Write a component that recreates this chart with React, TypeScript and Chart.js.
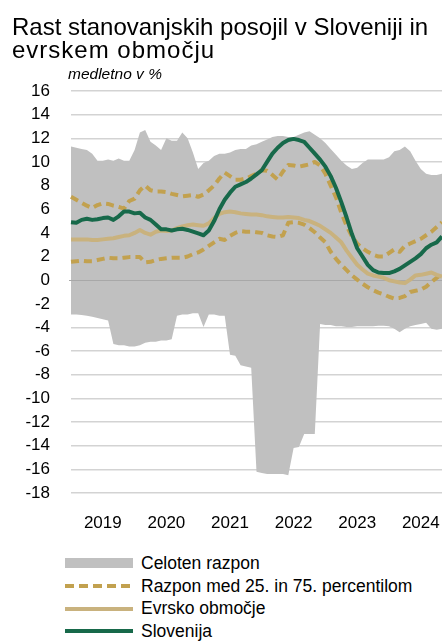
import React, { useEffect, useRef } from 'react';
import { Chart, registerables } from 'chart.js';

Chart.register(...registerables);

// Years shown on the x axis (monthly data Jan 2019 – Nov 2024)
const years: string[] = ['2019', '2020', '2021', '2022', '2023', '2024'];
const monthsInLastYear = 11;
const months: string[] = [];
years.forEach((y, yi) => {
  const n = yi === years.length - 1 ? monthsInLastYear : 12;
  for (let m = 1; m <= n; m++) months.push(`${y}-${String(m).padStart(2, '0')}`);
});

// Celoten razpon (max / min across countries)
const rangeMax: number[] = [
  11.3, 11.2, 11.1, 11.0, 10.7, 10.1, 10.1, 10.2, 10.1, 10.3, 10.1, 10.1,
  11.0, 12.5, 12.7, 11.7, 11.4, 11.0, 12.0, 11.8, 11.8, 12.5, 12.0, 10.8,
  9.4, 9.9, 10.1, 10.5, 10.7, 10.7, 10.8, 11.0, 11.1, 11.1, 11.4, 11.5,
  11.7, 11.9, 12.1, 12.2, 12.2, 12.1, 12.1, 12.3, 12.5, 12.6, 12.3, 12.0,
  11.6, 11.1, 10.6, 10.1, 9.7, 9.4, 9.5, 9.9, 10.2, 10.2, 10.2, 10.2,
  10.4, 10.9, 11.0, 11.3, 10.9, 10.1, 9.4, 9.0, 8.9, 8.9, 9.0,
];
const rangeMin: number[] = [
  -2.9, -2.9, -2.95, -3.0, -3.1, -3.2, -3.3, -3.4, -5.4, -5.5, -5.5, -5.6,
  -5.6, -5.5, -5.3, -5.2, -5.2, -5.1, -5.1, -5.0, -3.0, -2.9, -2.9, -2.8,
  -2.8, -3.95, -2.9, -2.9, -3.0, -3.0, -6.3, -6.4, -7.2, -7.3, -7.4, -16.2,
  -16.3, -16.4, -16.4, -16.4, -16.4, -16.5, -14.2, -14.1, -13.0, -13.0, -13.0, -3.7,
  -3.8, -3.8, -3.9, -3.9, -3.95, -3.95, -3.9, -3.9, -3.9, -3.9, -3.85, -3.85,
  -3.9, -4.1, -4.4, -4.1, -3.9, -3.8, -3.7, -3.6, -4.1, -4.2, -4.1,
];
// Razpon med 25. in 75. percentilom
const p75: number[] = [
  7.05, 6.8, 6.55, 6.3, 6.1, 6.35, 6.5, 6.45, 6.3, 6.2, 6.05, 6.7,
  6.9, 7.6, 8.0, 7.6, 7.5, 7.5, 7.45, 7.3, 7.2, 7.1, 7.15, 7.2,
  7.05, 7.25, 7.6, 8.0, 8.6, 9.1, 8.8, 8.5, 8.5, 8.6, 8.8, 9.0,
  9.3, 9.25, 8.9, 8.5, 9.2, 9.75, 9.7, 9.6, 9.7, 9.8, 10.0, 9.7,
  9.0, 8.0, 7.0, 5.7, 4.6, 3.7, 3.1, 2.7, 2.4, 2.15, 2.0, 2.0,
  2.3, 2.6, 2.4, 2.9, 3.1, 3.3, 3.5, 3.8, 4.1, 4.5, 4.9,
];
const p25: number[] = [
  1.55, 1.6, 1.65, 1.6, 1.6, 1.7, 1.8, 1.9, 1.85, 1.85, 1.9, 1.95,
  1.95, 1.95, 1.5, 1.55, 1.7, 1.8, 1.85, 1.9, 1.9, 1.9, 2.0, 2.2,
  2.35, 2.6, 2.9, 3.2, 3.5, 3.4, 3.75, 4.0, 4.15, 4.1, 4.1, 4.05,
  4.0, 3.8, 3.7, 3.65, 3.8, 4.85, 4.9, 4.85, 4.7, 4.4, 4.05, 3.6,
  3.2, 2.4, 1.8, 1.3, 0.85, 0.4, 0.05, -0.3, -0.6, -0.85, -1.05, -1.2,
  -1.4, -1.55, -1.5, -1.35, -1.0, -0.9, -0.8, -0.55, -0.15, 0.2, 0.5,
];
// Evrsko območje
const euroArea: number[] = [
  3.45, 3.45, 3.45, 3.45, 3.4, 3.4, 3.45, 3.5, 3.55, 3.65, 3.75, 3.8,
  4.0, 4.25, 4.0, 3.85, 4.1, 4.2, 4.15, 4.2, 4.4, 4.55, 4.65, 4.7,
  4.65, 4.6, 4.8, 5.25, 5.6, 5.75, 5.8, 5.75, 5.65, 5.6, 5.55, 5.55,
  5.5, 5.4, 5.35, 5.3, 5.3, 5.35, 5.3, 5.25, 5.1, 5.0, 4.8, 4.6,
  4.3, 4.0, 3.6, 3.2, 2.5, 1.9, 1.3, 0.9, 0.55, 0.4, 0.3, 0.2,
  0.0, -0.1, -0.2, -0.25, 0.05, 0.4, 0.45, 0.55, 0.65, 0.45, 0.3,
];
// Slovenija
const slovenia: number[] = [
  4.9, 4.85, 5.1, 5.2, 5.1, 5.15, 5.25, 5.3, 5.1, 5.4, 5.8, 5.8,
  5.65, 5.7, 5.3, 5.1, 4.7, 4.3, 4.3, 4.2, 4.3, 4.35, 4.25, 4.1,
  3.95, 3.8, 4.2, 5.0, 6.0, 6.8, 7.4, 7.9, 8.1, 8.3, 8.6, 8.95,
  9.3, 10.0, 10.7, 11.2, 11.6, 11.85, 11.95, 11.85, 11.7, 11.2, 10.7, 10.2,
  9.6, 8.8, 7.8, 6.6, 5.3, 3.9, 2.7, 2.0, 1.3, 0.85, 0.65, 0.6,
  0.6, 0.75, 0.95, 1.25, 1.55, 1.85, 2.2, 2.7, 3.0, 3.2, 3.7,
];

const yTicks = { min: -18, max: 16, step: 2 };

const COLORS = {
  range: '#c0c0c0',
  pct: '#c2a14f',
  euro: '#c9b27e',
  slo: '#17694a',
  grid: '#d3d3d3',
  zero: '#a8a8a8',
};

const FONT = '"Liberation Sans", Arial, sans-serif';

const legendItems = [
  { label: 'Celoten razpon', kind: 'rect', color: COLORS.range },
  { label: 'Razpon med 25. in 75. percentilom', kind: 'dash', color: COLORS.pct },
  { label: 'Evrsko območje', kind: 'line', color: COLORS.euro },
  { label: 'Slovenija', kind: 'line', color: COLORS.slo },
];

const zeroLinePlugin = {
  id: 'zeroLine',
  afterDatasetDraw(chart: any, args: any) {
    if (args.index !== 4) return;
    const { ctx, chartArea, scales } = chart;
    const y = Math.round(scales.y.getPixelForValue(0)) + 0.5;
    ctx.save();
    ctx.strokeStyle = COLORS.zero;
    ctx.lineWidth = 1;
    ctx.beginPath();
    ctx.moveTo(chartArea.left - 2, y);
    ctx.lineTo(chartArea.right, y);
    ctx.stroke();
    ctx.restore();
  },
};

export default function App() {
  const canvasRef = useRef<HTMLCanvasElement | null>(null);

  useEffect(() => {
    const canvas = canvasRef.current;
    if (!canvas) return;
    const lineCommon = {
      pointRadius: 0,
      pointHoverRadius: 0,
      tension: 0,
      fill: false,
      borderJoinStyle: 'round' as const,
    };
    const chart = new Chart(canvas, {
      type: 'line',
      data: {
        labels: months,
        datasets: [
          { ...lineCommon, label: 'Slovenija', data: slovenia, borderColor: COLORS.slo, borderWidth: 4 },
          { ...lineCommon, label: 'Evrsko območje', data: euroArea, borderColor: COLORS.euro, borderWidth: 4 },
          { ...lineCommon, label: '75. percentil', data: p75, borderColor: COLORS.pct, borderWidth: 4, borderDash: [8, 5] },
          { ...lineCommon, label: '25. percentil', data: p25, borderColor: COLORS.pct, borderWidth: 4, borderDash: [8, 5] },
          { ...lineCommon, label: 'Celoten razpon', data: rangeMax, borderWidth: 0, borderColor: 'rgba(0,0,0,0)', backgroundColor: COLORS.range, fill: '+1' },
          { ...lineCommon, label: 'Celoten razpon min', data: rangeMin, borderWidth: 0, borderColor: 'rgba(0,0,0,0)' },
        ],
      },
      options: {
        responsive: false,
        animation: false,
        events: [],
        layout: { padding: { top: 91, left: 0, right: 0, bottom: 0 } },
        plugins: {
          legend: { display: false },
          title: { display: false },
          tooltip: { enabled: false },
        },
        scales: {
          x: {
            type: 'category',
            grid: { display: false },
            border: { display: false },
            afterFit: (scale: any) => {
              scale.height = 545 - 493;
              scale.paddingRight = 0;
              scale.paddingLeft = 0;
            },
            ticks: {
              autoSkip: false,
              maxRotation: 0,
              padding: 12,
              color: '#000',
              font: { family: FONT, size: 17 },
              callback: (_v: any, i: number) => (i % 12 === 6 ? years[Math.floor(i / 12)] : ''),
            },
          },
          y: {
            min: yTicks.min,
            max: yTicks.max,
            grid: { color: COLORS.grid, lineWidth: 1.5, drawTicks: false },
            border: { display: false },
            afterFit: (scale: any) => { scale.width = 71; },
            ticks: {
              stepSize: yTicks.step,
              padding: 21,
              color: '#000',
              font: { family: FONT, size: 17 },
            },
          },
        },
      },
      plugins: [zeroLinePlugin],
    });
    return () => chart.destroy();
  }, []);

  return (
    <div style={{ position: 'absolute', left: 0, top: 0, width: 442, height: 641, overflow: 'hidden', fontFamily: FONT, color: '#000' }}>
      <canvas ref={canvasRef} width={442} height={545} style={{ position: 'absolute', left: 0, top: 0 }} />
      <div style={{ position: 'absolute', left: 12, top: 15, fontSize: 24, lineHeight: '23px', whiteSpace: 'nowrap' }}>
        Rast stanovanjskih posojil v Sloveniji in<br />
        <span style={{ letterSpacing: '1px' }}>evrskem območju</span>
      </div>
      <div style={{ position: 'absolute', left: 68, top: 65.5, fontSize: 15.5, lineHeight: '16px', fontStyle: 'italic', whiteSpace: 'nowrap' }}>
        medletno v %
      </div>
      <div style={{ position: 'absolute', left: 65, top: 552, fontSize: 17.5 }}>
        {legendItems.map((it) => (
          <div key={it.label} style={{ display: 'flex', alignItems: 'center', height: 22.7, whiteSpace: 'nowrap' }}>
            <svg width={68} height={12} style={{ marginRight: 8, flex: 'none' }}>
              {it.kind === 'rect' && <rect x={0} y={1} width={68} height={10} fill={it.color} />}
              {it.kind === 'dash' && <line x1={0} y1={6} x2={68} y2={6} stroke={it.color} strokeWidth={4} strokeDasharray="9 5" />}
              {it.kind === 'line' && <line x1={0} y1={6} x2={68} y2={6} stroke={it.color} strokeWidth={4} />}
            </svg>
            <span style={{ lineHeight: '22.7px' }}>{it.label}</span>
          </div>
        ))}
      </div>
    </div>
  );
}
